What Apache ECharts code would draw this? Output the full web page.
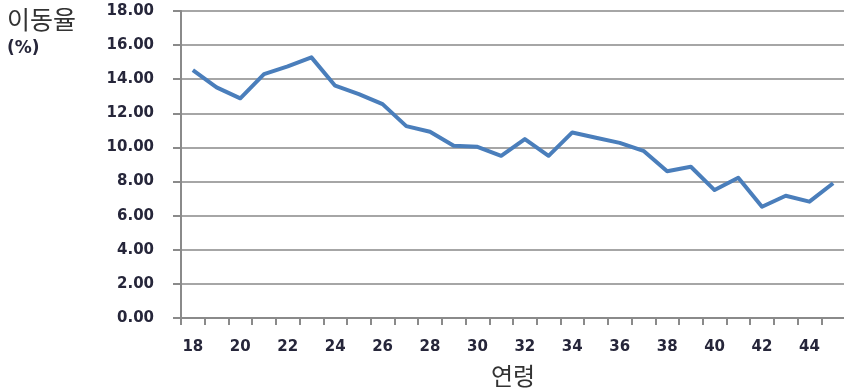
<!DOCTYPE html>
<html>
<head>
<meta charset="utf-8">
<script src="https://cdn.jsdelivr.net/npm/echarts@6/dist/echarts.min.js"></script>
<style>
  html, body { margin: 0; padding: 0; background: #fff; overflow: hidden; }
  #chart { width: 844px; height: 390px; }
</style>
</head>
<body>
<div id="chart"></div>
<script>
// Ages on the horizontal axis
const ages = [18, 19, 20, 21, 22, 23, 24, 25, 26, 27, 28, 29, 30, 31,
              32, 33, 34, 35, 36, 37, 38, 39, 40, 41, 42, 43, 44, 45];
// Mobility rate (%) by age
const rates = [14.53, 13.52, 12.88, 14.30, 14.75, 15.28, 13.62, 13.13, 12.54, 11.25,
               10.92, 10.10, 10.04, 9.51, 10.49, 9.51, 10.88, 10.57, 10.27, 9.80,
               8.60, 8.87, 7.50, 8.22, 6.52, 7.17, 6.82, 7.90];
// Value axis range and step
const yMin = 0, yMax = 18, yStep = 2;

const labelFont = { fontFamily: 'DejaVu Sans', fontWeight: 'bold', fontSize: 15, color: '#26263a' };

const chart = echarts.init(document.getElementById('chart'), null, { renderer: 'canvas', width: 844, height: 390 });
chart.setOption({
  animation: false,
  backgroundColor: '#ffffff',
  grid: { left: 181, top: 11, width: 664, height: 307, containLabel: false, outerBoundsMode: 'none' },
  graphic: [
    { type: 'text', left: 7, top: 7,
      style: { text: '이동율', font: '25px "Noto Sans CJK KR"', fill: '#333333' } },
    { type: 'text', left: 7, top: 40,
      style: { text: '(%)', font: 'bold 17px "DejaVu Sans"', fill: '#26263a' } }
  ],
  xAxis: {
    type: 'category',
    data: ages.map(String),
    boundaryGap: true,
    name: '연령',
    nameLocation: 'middle',
    nameGap: 46,
    nameTextStyle: { fontFamily: 'Noto Sans CJK KR', fontSize: 24, color: '#333333' },
    axisLine: { lineStyle: { color: '#8a8a8a', width: 2 } },
    axisTick: { show: true, interval: 0, length: 7, lineStyle: { color: '#8a8a8a', width: 2 } },
    axisLabel: Object.assign({ interval: 1, margin: 22 }, labelFont),
    splitLine: { show: false }
  },
  yAxis: {
    type: 'value',
    min: yMin, max: yMax, interval: yStep,
    axisLine: { show: true, lineStyle: { color: '#8a8a8a', width: 2 } },
    axisTick: { show: true, length: 8, lineStyle: { color: '#8a8a8a', width: 2 } },
    axisLabel: Object.assign({ margin: 27, formatter: v => v.toFixed(2) }, labelFont),
    splitLine: { show: true, lineStyle: { color: '#a6a6a6', width: 2 } }
  },
  series: [{
    type: 'line',
    data: rates,
    showSymbol: false,
    symbol: 'none',
    lineStyle: { color: '#4a7ebb', width: 4, join: 'round' },
    itemStyle: { color: '#4a7ebb' }
  }]
});
</script>
</body>
</html>
